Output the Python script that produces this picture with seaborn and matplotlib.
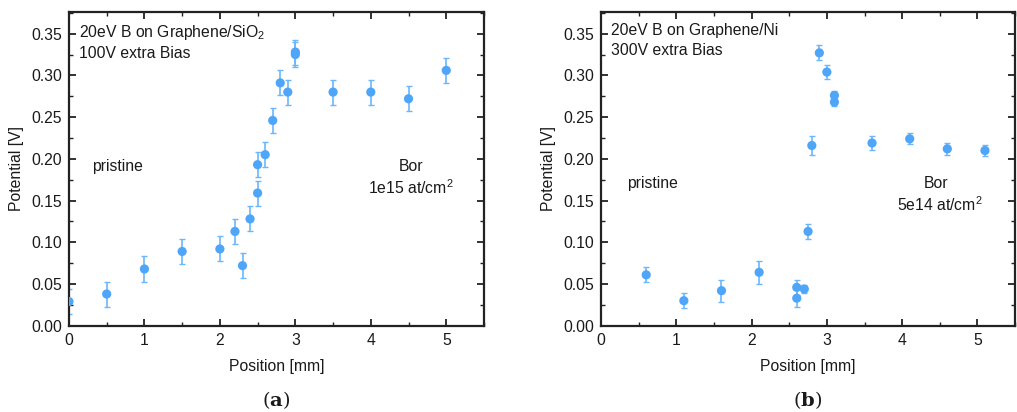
import numpy as np
import pandas as pd
import matplotlib
matplotlib.use("Agg")
import matplotlib.pyplot as plt
import seaborn as sns
from matplotlib.ticker import MultipleLocator

# Panel (a): Graphene/SiO2
pos_a = [0.0, 0.5, 1.0, 1.5, 2.0, 2.2, 2.3, 2.4, 2.5, 2.5, 2.6, 2.7, 2.8, 2.9, 3.0, 3.0, 3.5, 4.0, 4.5, 5.0]
pot_a = [0.029, 0.038, 0.068, 0.089, 0.092, 0.113, 0.072, 0.128, 0.159, 0.193, 0.205, 0.246, 0.291, 0.280, 0.328, 0.325, 0.280, 0.280, 0.272, 0.306]
err_a = [0.015] * 20

# Panel (b): Graphene/Ni
pos_b = [0.6, 1.1, 1.6, 2.1, 2.6, 2.6, 2.7, 2.75, 2.8, 2.9, 3.0, 3.1, 3.1, 3.6, 4.1, 4.6, 5.1]
pot_b = [0.061, 0.030, 0.042, 0.064, 0.033, 0.046, 0.044, 0.113, 0.216, 0.327, 0.304, 0.276, 0.268, 0.219, 0.224, 0.212, 0.210]
err_b = [0.009, 0.009, 0.013, 0.0135, 0.011, 0.009, 0.005, 0.009, 0.011, 0.009, 0.008, 0.005, 0.005, 0.008, 0.0066, 0.0068, 0.0068]

sns.set_style("ticks")
plt.rcParams['font.family'] = ['Liberation Sans', 'DejaVu Sans']
plt.rcParams['mathtext.fontset'] = 'custom'
plt.rcParams['mathtext.rm'] = 'Liberation Sans'
plt.rcParams['mathtext.it'] = 'Liberation Sans'
plt.rcParams['mathtext.bf'] = 'DejaVu Serif:bold'

FS = 11.3
pt_color = '#4fa6f9'
err_color = '#6cb6fb'
txt_color = '#1a1a1a'

fig = plt.figure(figsize=(10.17, 4.12), dpi=100)
ax_a = fig.add_axes([0.0678, 0.2094, 0.4081, 0.7615])
ax_b = fig.add_axes([0.5910, 0.2094, 0.4071, 0.7615])

panels = [
    (ax_a, pos_a, pot_a, err_a,
     ["20eV B on Graphene/SiO$_2$", "100V extra Bias"], (0.936, 0.868),
     (0.055, 0.506), (0.824, 0.506), (0.824, 0.439), "1e15 at/cm$^2$", r"($\mathbf{a}$)"),
    (ax_b, pos_b, pot_b, err_b,
     ["20eV B on Graphene/Ni", "300V extra Bias"], (0.942, 0.878),
     (0.062, 0.452), (0.81, 0.452), (0.819, 0.385), "5e14 at/cm$^2$", r"($\mathbf{b}$)"),
]

for ax, xs, ys, es, title_lines, title_y, prist_xy, bor_xy, dose_xy, dose, letter in panels:
    df = pd.DataFrame({"Position": xs, "Potential": ys, "err": es})
    ax.errorbar(df["Position"], df["Potential"], yerr=df["err"], fmt='none',
                ecolor=err_color, elinewidth=1.2, capsize=2.4, capthick=1.0, zorder=2)
    sns.scatterplot(data=df, x="Position", y="Potential", ax=ax, color=pt_color,
                    s=44, edgecolor='none', linewidth=0, zorder=3, legend=False)
    ax.set_xlim(0, 5.5)
    ax.set_ylim(0, 0.376)
    ax.xaxis.set_minor_locator(MultipleLocator(0.5))
    ax.yaxis.set_minor_locator(MultipleLocator(0.025))
    ax.set_yticks(np.arange(0, 0.351, 0.05))
    ax.set_yticklabels([f"{v:.2f}" for v in np.arange(0, 0.351, 0.05)])
    ax.set_xticks(range(0, 6))
    ax.set_xticklabels([str(i) for i in range(0, 6)])
    ax.tick_params(which='major', direction='in', length=5, width=1.3,
                   top=True, right=True, labelsize=FS, pad=5, colors='#222222',
                   labelcolor=txt_color)
    ax.tick_params(which='minor', direction='in', length=3, width=1.0,
                   top=True, right=True, colors='#222222')
    for sp in ax.spines.values():
        sp.set_visible(True)
        sp.set_linewidth(1.6)
        sp.set_color('#222222')
    ax.set_xlabel("Position [mm]", fontsize=FS, labelpad=8, color=txt_color)
    ax.set_ylabel("Potential [V]", fontsize=FS, labelpad=5, color=txt_color)
    ax.text(0.024, title_y[0], title_lines[0], transform=ax.transAxes, fontsize=FS,
            ha='left', va='center', color=txt_color)
    ax.text(0.024, title_y[1], title_lines[1], transform=ax.transAxes, fontsize=FS,
            ha='left', va='center', color=txt_color)
    ax.text(prist_xy[0], prist_xy[1], "pristine", transform=ax.transAxes,
            fontsize=FS, ha='left', va='center', color=txt_color)
    ax.text(bor_xy[0], bor_xy[1], "Bor", transform=ax.transAxes,
            fontsize=FS, ha='center', va='center', color=txt_color)
    ax.text(dose_xy[0], dose_xy[1], dose, transform=ax.transAxes,
            fontsize=FS, ha='center', va='center', color=txt_color)
    ax.text(0.5, -0.237, letter, transform=ax.transAxes, fontsize=14,
            ha='center', va='center', family='DejaVu Serif', color=txt_color)

fig.savefig("out.png", dpi=100)
